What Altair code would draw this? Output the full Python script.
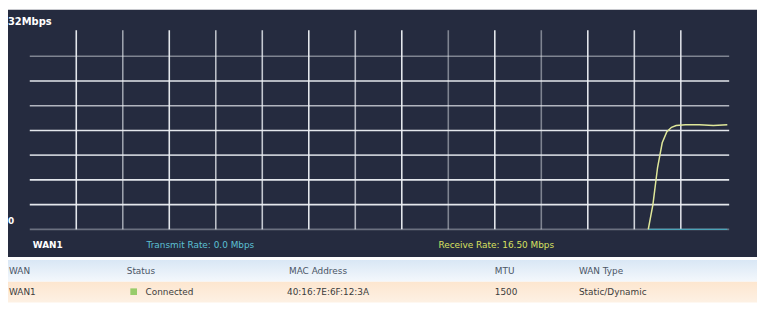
import altair as alt
import pandas as pd

# ---- data ----
time_s = [133, 134, 135, 136, 137, 138, 139, 141, 144, 147, 150]
receive_mbps = [0, 4, 10, 14, 15.8, 16.5, 16.8, 16.9, 16.9, 16.8, 16.9]
transmit_mbps = [0, 0, 0, 0, 0, 0, 0, 0, 0, 0, 0]

grid_t = [10, 20, 30, 40, 50, 60, 70, 80, 90, 100, 110, 120, 130, 140]
grid_t_alpha = [0.95, 0.6, 0.95, 0.75, 0.8, 0.95, 0.7, 0.95, 0.45, 0.95, 0.45, 0.95, 0.85, 0.9]
grid_v = [0, 4, 8, 12, 16, 20, 24, 28]
grid_v_alpha = [0.35, 0.95, 0.95, 0.8, 0.95, 0.7, 0.95, 0.45]

y_max_label = "32Mbps"
y_min_label = "0"
wan_label = "WAN1"
tx_label = "Transmit Rate: 0.0 Mbps"
rx_label = "Receive Rate: 16.50 Mbps"

headers = ["WAN", "Status", "MAC Address", "MTU", "WAN Type"]
row = ["WAN1", "Connected", "40:16:7E:6F:12:3A", "1500", "Static/Dynamic"]

# ---- layout ----
W, H = 757, 324
xs = alt.Scale(domain=[0, 150], range=[22, 727])
ys = alt.Scale(domain=[0, 32], range=[222, 22])

panel = alt.Chart(pd.DataFrame({"a": [0]})).mark_rect(color="#252b3f").encode(
    x=alt.value(0), x2=alt.value(W), y=alt.value(0), y2=alt.value(250))

hdr_bg = alt.Chart(pd.DataFrame({"a": [0]})).mark_rect(
    color=alt.LinearGradient(gradient="linear", x1=0, y1=0, x2=0, y2=1,
                             stops=[alt.GradientStop(color="#d9e7f5", offset=0),
                                    alt.GradientStop(color="#f4f8fc", offset=1)])
).encode(x=alt.value(0), x2=alt.value(W), y=alt.value(253), y2=alt.value(275))

row_bg = alt.Chart(pd.DataFrame({"a": [0]})).mark_rect(
    color=alt.LinearGradient(gradient="linear", x1=0, y1=0, x2=0, y2=1,
                             stops=[alt.GradientStop(color="#fde6cf", offset=0),
                                    alt.GradientStop(color="#fdf1e4", offset=1)])
).encode(x=alt.value(0), x2=alt.value(W), y=alt.value(275), y2=alt.value(296))

vgrid_df = pd.DataFrame({"t": grid_t, "a": grid_t_alpha, "v0": 0, "v1": 32.2})
vgrid = alt.Chart(vgrid_df).mark_rule(color="#eef1f6", strokeWidth=1.6).encode(
    x=alt.X("t:Q", scale=xs, axis=None),
    y=alt.Y("v0:Q", scale=ys, axis=None), y2="v1:Q",
    opacity=alt.Opacity("a:Q", scale=None))

hgrid_df = pd.DataFrame({"v": grid_v, "a": grid_v_alpha, "t0": 0, "t1": 150.4})
hgrid = alt.Chart(hgrid_df).mark_rule(color="#eef1f6", strokeWidth=1.6).encode(
    y=alt.Y("v:Q", scale=ys, axis=None),
    x=alt.X("t0:Q", scale=xs, axis=None), x2="t1:Q",
    opacity=alt.Opacity("a:Q", scale=None))

df = pd.DataFrame({"t": time_s, "rx": receive_mbps, "tx": transmit_mbps})
tx_line = alt.Chart(df).mark_line(color="#4aa3b8", strokeWidth=1.3).encode(
    x=alt.X("t:Q", scale=xs, axis=None), y=alt.Y("tx:Q", scale=ys, axis=None))
rx_line = alt.Chart(df).mark_line(color="#dfe79a", strokeWidth=1.5).encode(
    x=alt.X("t:Q", scale=xs, axis=None), y=alt.Y("rx:Q", scale=ys, axis=None))

def txt(s, x, y, color, size=10, weight="normal"):
    return alt.Chart(pd.DataFrame({"s": [s]})).mark_text(
        align="left", baseline="middle", color=color, fontSize=size,
        font="DejaVu Sans", fontWeight=weight).encode(
        x=alt.value(x), y=alt.value(y), text="s:N")

labels = [
    txt(y_max_label, 0, 12, "#ffffff", 10, "bold"),
    txt(y_min_label, 0, 214, "#ffffff", 9, "bold"),
    txt(wan_label, 25, 238, "#ffffff", 9, "bold"),
    txt(tx_label, 140, 238, "#5cc0d4", 9),
    txt(rx_label, 435, 238, "#d8e060", 9),
]

col_x = [1, 120, 284, 492, 577]
for h, cx in zip(headers, col_x):
    labels.append(txt(h, cx, 264, "#4a5566", 9))
row_x = [1, 139, 282, 492, 577]
for v, cx in zip(row, row_x):
    labels.append(txt(v, cx, 285, "#3c3c3c", 9))

icon = alt.Chart(pd.DataFrame({"a": [0]})).mark_point(
    shape="square", filled=True, color="#6cbf3c", size=45).encode(
    x=alt.value(127), y=alt.value(285))

chart = alt.layer(panel, hdr_bg, row_bg, hgrid, vgrid, tx_line, rx_line, icon, *labels).properties(
    width=W, height=H, padding=0, autosize=alt.AutoSizeParams(type="none"),
    background="#ffffff"
).configure_view(strokeWidth=0)

chart.save("out.html", embed_options={"renderer": "svg", "actions": False})
